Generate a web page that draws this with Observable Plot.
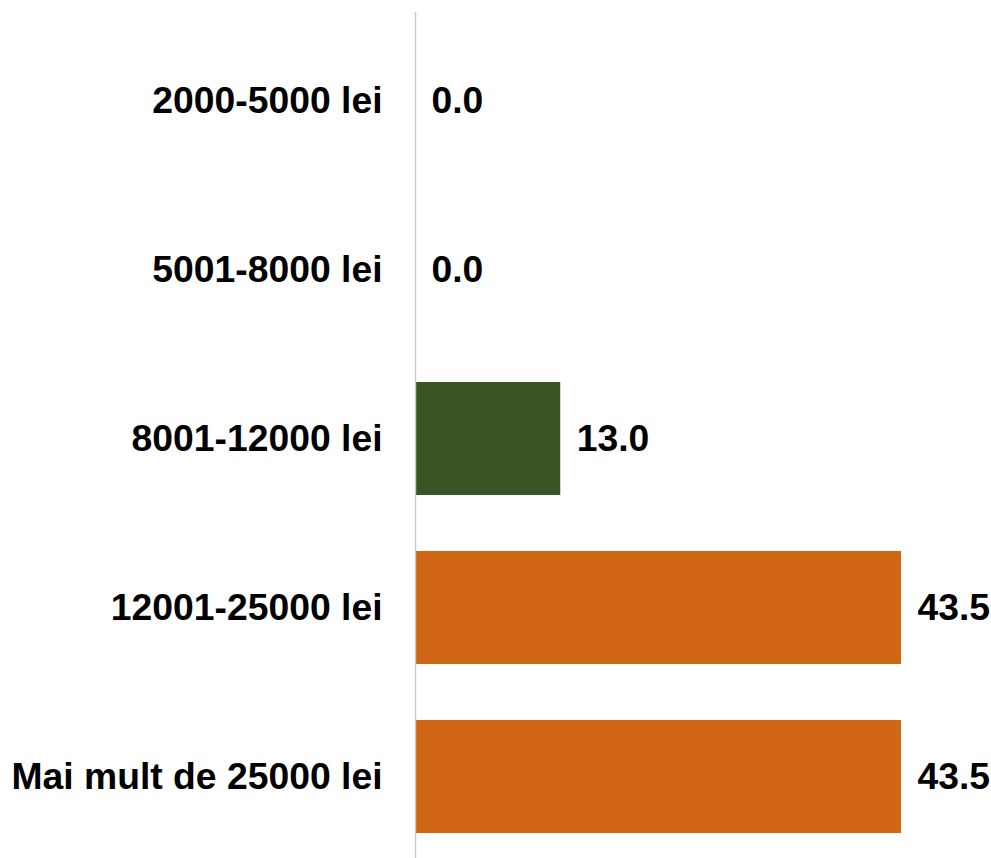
<!DOCTYPE html>
<html>
<head>
<meta charset="utf-8">
<script src="https://cdn.jsdelivr.net/npm/d3@7"></script>
<script src="https://cdn.jsdelivr.net/npm/@observablehq/plot@0.6"></script>
<style>
  html, body { margin: 0; padding: 0; background: #ffffff; }
  #chart svg { display: block; }
</style>
</head>
<body>
<div id="chart"></div>
<script>
const categories = ["2000-5000 lei", "5001-8000 lei", "8001-12000 lei", "12001-25000 lei", "Mai mult de 25000 lei"];
const values = [0.0, 0.0, 13.0, 43.5, 43.5];
const barColors = ["#d06513", "#d06513", "#3a5423", "#d06513", "#d06513"];

const data = categories.map((c, i) => ({category: c, value: values[i], color: barColors[i]}));

const chart = Plot.plot({
  width: 991,
  height: 858,
  marginTop: 12,
  marginBottom: 0,
  marginLeft: 415,
  marginRight: 0,
  style: {fontFamily: "'Liberation Sans', Arial, sans-serif", background: "transparent"},
  x: {domain: [0, 43.5], range: [415, 901], axis: null},
  y: {domain: categories, range: [15, 862], paddingInner: 0.33, paddingOuter: 0.165, label: null},
  marks: [
    Plot.barX(data, {y: "category", x: "value", fill: "color"}),
    Plot.ruleX([0], {stroke: "#cccccc", strokeWidth: 1.5}),
    Plot.axisY({tickSize: 0, tickPadding: 33, fontSize: 37.3, fontWeight: "bold", fill: "#000", label: null}),
    Plot.text(data, {y: "category", x: "value", text: d => d.value.toFixed(1), textAnchor: "start", dx: 16, fontSize: 37.3, fontWeight: "bold", fill: "#000"})
  ]
});
document.getElementById("chart").appendChild(chart);
</script>
</body>
</html>
